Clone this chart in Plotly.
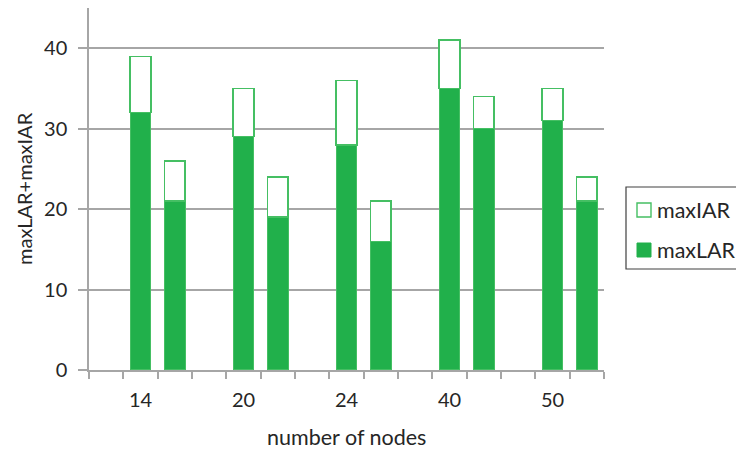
import plotly.graph_objects as go

# Node counts (one label per group of two bars)
nodes = ["14", "20", "24", "40", "50"]
# Stacked values, two bars per node count, in left-to-right order
max_lar = [32, 21, 29, 19, 28, 16, 35, 30, 31, 21]
max_iar = [7, 5, 6, 5, 8, 5, 6, 4, 4, 3]
y_ticks = [0, 10, 20, 30, 40]

GREEN = "#21B04B"
EDGE = "#45BF63"
GRID = "#A6A6A6"
TEXT = "#262626"
FONT = "Lato"
TICK_SIZE = 20
TITLE_SIZE = 21.5

# Each group occupies three slots: an empty one, then the two bars
x_pos = [3 * (i // 2) + 1 + (i % 2) for i in range(len(max_lar))]
label_pos = [3 * g + 1 for g in range(len(nodes))]

fig = go.Figure()
fig.add_trace(go.Bar(
    x=x_pos, y=max_lar, name="maxLAR", width=0.6,
    marker=dict(color=GREEN, line=dict(color=EDGE, width=1.2)),
))
fig.add_trace(go.Bar(
    x=x_pos, y=max_iar, name="maxIAR", width=0.6,
    marker=dict(color="white", line=dict(color=EDGE, width=1.5)),
))

W, H = 736, 452
L, R, T, B = 89, 132, 8, 82
pw, ph = W - L - R, H - T - B


def px(xp):
    return (xp - L) / pw


def py(yp):
    return (H - B - yp) / ph


shapes = [
    # legend frame
    dict(type="rect", xref="paper", yref="paper",
         x0=px(626), x1=px(760), y0=py(269), y1=py(187),
         line=dict(color="#404040", width=1.2), fillcolor="rgba(0,0,0,0)"),
    # legend swatches
    dict(type="rect", xref="paper", yref="paper",
         x0=px(637), x1=px(651), y0=py(217), y1=py(203),
         line=dict(color=EDGE, width=1.4), fillcolor="white"),
    dict(type="rect", xref="paper", yref="paper",
         x0=px(637), x1=px(651), y0=py(257), y1=py(243),
         line=dict(color=GREEN, width=1), fillcolor=GREEN),
]

annotations = [
    dict(text="maxIAR", xref="paper", yref="paper", x=px(655), y=py(210),
         xanchor="left", yanchor="middle", showarrow=False,
         font=dict(family=FONT, size=TITLE_SIZE, color=TEXT)),
    dict(text="maxLAR", xref="paper", yref="paper", x=px(655), y=py(250),
         xanchor="left", yanchor="middle", showarrow=False,
         font=dict(family=FONT, size=TITLE_SIZE, color=TEXT)),
    dict(text="number of nodes", xref="paper", yref="paper", x=0.5, y=py(437),
         xanchor="center", yanchor="middle", showarrow=False,
         font=dict(family=FONT, size=TITLE_SIZE, color=TEXT)),
    dict(text="maxLAR+maxIAR", xref="paper", yref="paper", x=px(24), y=0.5,
         xanchor="center", yanchor="middle", showarrow=False, textangle=-90,
         font=dict(family=FONT, size=20, color=TEXT)),
]

fig.update_layout(
    width=W, height=H,
    margin=dict(l=L, r=R, t=T, b=B, autoexpand=False),
    barmode="stack",
    showlegend=False,
    plot_bgcolor="white", paper_bgcolor="white",
    font=dict(family=FONT, size=TICK_SIZE, color=TEXT),
    shapes=shapes,
    annotations=annotations,
)

fig.update_xaxes(
    range=[-0.5, 14.5],
    tickmode="array", tickvals=label_pos, ticktext=nodes,
    ticks="", showgrid=False, zeroline=False,
    showline=True, linecolor=GRID, linewidth=1.5,
    ticklabelstandoff=11,
    minor=dict(ticks="outside", tick0=-0.5, dtick=1, ticklen=7,
               tickcolor=GRID, tickwidth=1.5, showgrid=False),
)
fig.update_yaxes(
    range=[0, 45],
    tickmode="array", tickvals=y_ticks,
    ticks="outside", ticklen=9, tickcolor=GRID, tickwidth=1.5,
    showgrid=True, gridcolor=GRID, gridwidth=1.5,
    zeroline=False,
    showline=True, linecolor=GRID, linewidth=1.5,
    ticklabelstandoff=7,
)

fig.write_html("out.html")
